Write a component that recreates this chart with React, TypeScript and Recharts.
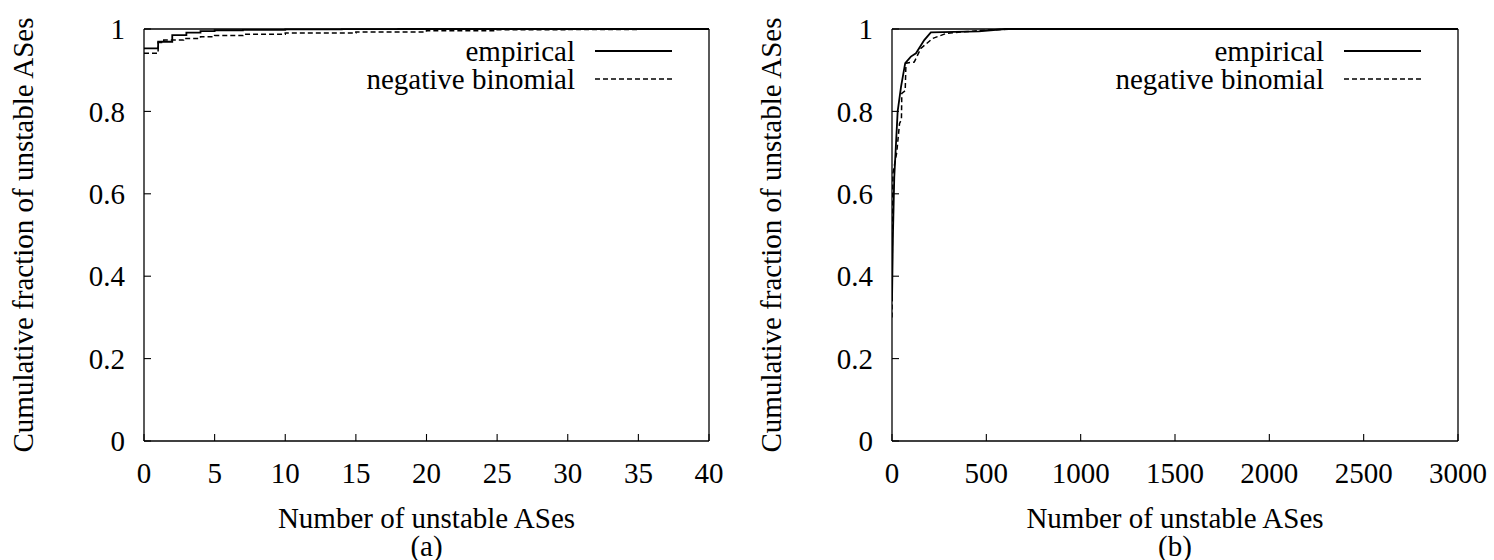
import { LineChart, Line, XAxis, YAxis } from 'recharts'

// cumulative fraction ticks shared by both panels
const fracTicks = [0, 0.2, 0.4, 0.6, 0.8, 1]
const ticksA = [0, 5, 10, 15, 20, 25, 30, 35, 40]
const ticksB = [0, 500, 1000, 1500, 2000, 2500, 3000]

// (a) small range, step CDFs
const empiricalAX = [0, 1, 2, 3, 4, 5, 7, 10, 14, 18, 40]
const empiricalAY = [0.953, 0.969, 0.985, 0.991, 0.995, 0.997, 0.998, 0.999, 0.9995, 1, 1]
const negbinAX = [0, 1, 1.4, 2.8, 4, 5, 7, 10, 15, 20, 25, 30, 35, 40]
const negbinAY = [0.941, 0.967, 0.973, 0.977, 0.981, 0.984, 0.987, 0.99, 0.993, 0.996, 0.998, 0.999, 1, 1]

// (b) full range
const empiricalBX = [0, 5, 12, 30, 48, 70, 100, 127, 171, 206, 460, 600, 3000]
const empiricalBY = [0.34, 0.5, 0.64, 0.8, 0.86, 0.917, 0.933, 0.941, 0.973, 0.992, 0.994, 1, 1]
const negbinBX = [0, 2, 5, 25, 40, 50, 52, 70, 74, 118, 153, 215, 286, 374, 516, 700, 3000]
const negbinBY = [0.3, 0.5, 0.65, 0.7, 0.771, 0.78, 0.844, 0.85, 0.917, 0.92, 0.953, 0.977, 0.989, 0.993, 0.998, 1, 1]

const legendNames = ['empirical', 'negative binomial']
const xTitle = 'Number of unstable ASes'
const yTitle = 'Cumulative fraction of unstable ASes'

const zip = (xs: number[], ys: number[]) => xs.map((x, i) => ({ x, y: ys[i] }))

const FONT = "'Liberation Serif', 'Times New Roman', Times, serif"
const FS = 29
const tickStyle = { fill: '#000', fontSize: FS, fontFamily: FONT }
const axisLine = { stroke: '#000', strokeWidth: 1.3 }
const tickLine = { stroke: '#000', strokeWidth: 1.1 }
const textStyle = { position: 'absolute' as const, fontSize: FS, lineHeight: '24px', fontFamily: FONT, color: '#000', whiteSpace: 'nowrap' as const }

interface PanelProps {
  left: number
  width: number
  margin: { top: number; right: number; bottom: number; left: number }
  xMax: number
  xTicks: number[]
  empirical: { x: number; y: number }[]
  negbin: { x: number; y: number }[]
  curve: 'stepAfter' | 'linear'
  plotLeft: number
  plotRight: number
  tag: string
}

function Panel({ left, width, margin, xMax, xTicks, empirical, negbin, curve, plotLeft, plotRight, tag }: PanelProps) {
  const cx = (plotLeft + plotRight) / 2
  return (
    <>
      <div style={{ position: 'absolute', left, top: 0 }}>
        <LineChart width={width} height={560} margin={margin}>
          <XAxis xAxisId="b" type="number" dataKey="x" domain={[0, xMax]} ticks={xTicks} allowDataOverflow
            height={60} tickSize={-7} tickMargin={28} tick={tickStyle} axisLine={axisLine} tickLine={tickLine} />
          <XAxis xAxisId="t" orientation="top" type="number" dataKey="x" domain={[0, xMax]} ticks={xTicks}
            height={1} tickSize={-7} tick={false} axisLine={axisLine} tickLine={tickLine} />
          <YAxis yAxisId="l" type="number" domain={[0, 1]} ticks={fracTicks} width={60}
            tickSize={-7} tickMargin={26} tick={tickStyle} axisLine={axisLine} tickLine={tickLine} />
          <YAxis yAxisId="r" orientation="right" type="number" domain={[0, 1]} ticks={fracTicks} width={1}
            tickSize={-7} tick={false} axisLine={axisLine} tickLine={tickLine} />
          <Line xAxisId="b" yAxisId="l" data={negbin} dataKey="y" type={curve} stroke="#000" strokeWidth={1.5}
            strokeDasharray="5 3" dot={false} activeDot={false} isAnimationActive={false} />
          <Line xAxisId="b" yAxisId="l" data={empirical} dataKey="y" type={curve} stroke="#000" strokeWidth={1.8}
            dot={false} activeDot={false} isAnimationActive={false} />
        </LineChart>
      </div>

      {/* legend, top right inside the frame */}
      {legendNames.map((name, i) => (
        <div key={name}>
          <div style={{ ...textStyle, left: plotRight - 134 - 300, top: 51 + i * 28 - 12, width: 300, textAlign: 'right' }}>{name}</div>
          <svg style={{ position: 'absolute', left: plotRight - 114, top: 51 + i * 28 - 2 }} width={77} height={4}>
            <line x1={0} y1={2} x2={77} y2={2} stroke="#000" strokeWidth={i === 0 ? 1.8 : 1.5}
              strokeDasharray={i === 0 ? undefined : '5 3'} />
          </svg>
        </div>
      ))}

      <div style={{ ...textStyle, left: plotLeft - 121 - 240, top: 235 - 12, width: 480, textAlign: 'center',
        transform: 'rotate(-90deg)' }}>{yTitle}</div>
      <div style={{ ...textStyle, left: cx - 250, top: 518 - 12, width: 500, textAlign: 'center' }}>{xTitle}</div>
      <div style={{ ...textStyle, left: cx - 50, top: 546 - 12, width: 100, textAlign: 'center' }}>{tag}</div>
    </>
  )
}

export default function App() {
  return (
    <div style={{ position: 'absolute', left: 0, top: 0, width: 1494, height: 560, background: '#fff', overflow: 'hidden' }}>
      <Panel left={0} width={760} margin={{ top: 28, right: 50, bottom: 59, left: 84 }}
        xMax={40} xTicks={ticksA} empirical={zip(empiricalAX, empiricalAY)} negbin={zip(negbinAX, negbinAY)}
        curve="stepAfter" plotLeft={144} plotRight={709} tag="(a)" />
      <Panel left={747} width={747} margin={{ top: 28, right: 35, bottom: 59, left: 85 }}
        xMax={3000} xTicks={ticksB} empirical={zip(empiricalBX, empiricalBY)} negbin={zip(negbinBX, negbinBY)}
        curve="linear" plotLeft={892} plotRight={1458} tag="(b)" />
    </div>
  )
}
